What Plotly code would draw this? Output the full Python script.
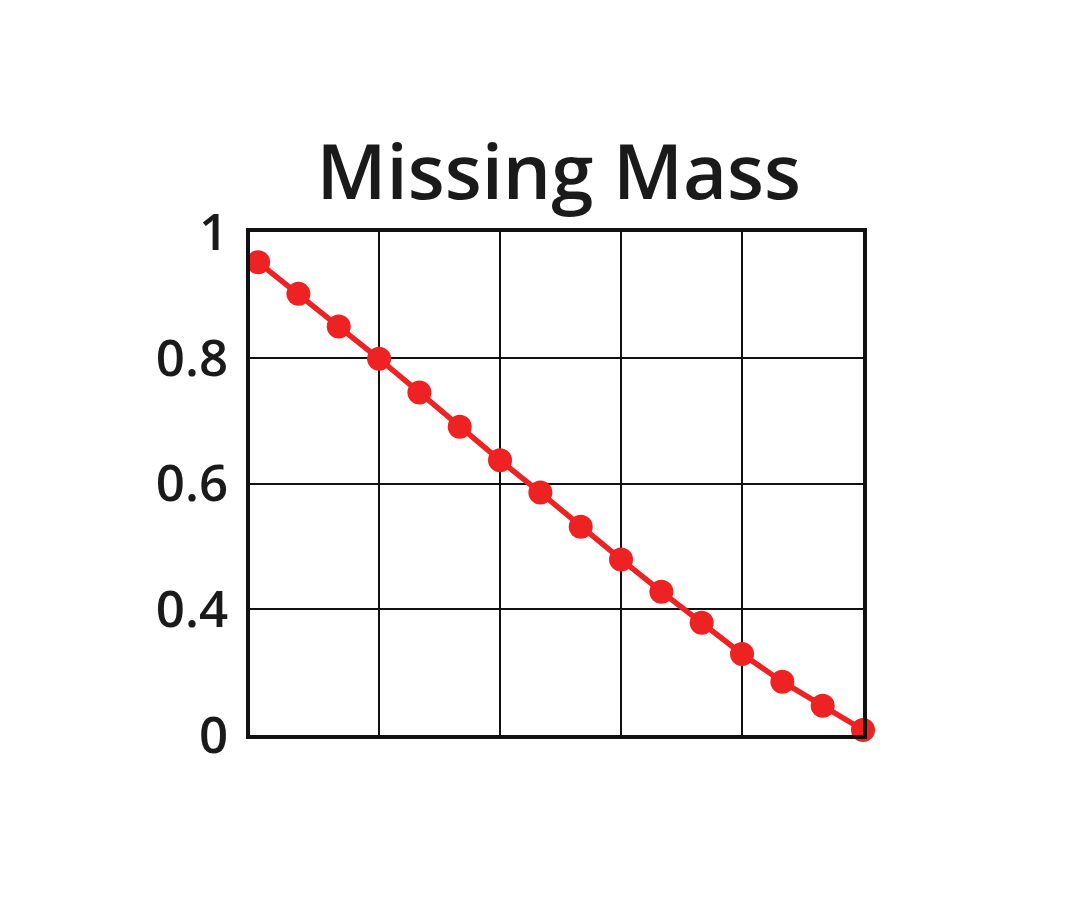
import plotly.graph_objects as go

# data
step = list(range(16))
missing_mass = [0.940, 0.877, 0.812, 0.748, 0.681, 0.613, 0.546, 0.482,
                0.414, 0.349, 0.285, 0.223, 0.161, 0.106, 0.058, 0.010]
y_tick_vals = [0, 0.25, 0.5, 0.75, 1.0]
y_tick_text = ["0", "0.4", "0.6", "0.8", "1"]
x_grid_vals = [3, 6, 9, 12]

RED = "#EE2222"
FONT = "Open Sans"

fig = go.Figure()
fig.add_trace(go.Scatter(
    x=step, y=missing_mass, mode="lines+markers",
    line=dict(color=RED, width=5.5),
    marker=dict(color=RED, size=24),
    cliponaxis=False, showlegend=False,
))

fig.update_layout(
    width=1080, height=903,
    paper_bgcolor="white", plot_bgcolor="white",
    margin=dict(l=242, r=225, t=224, b=176),
    title=dict(text="Missing Mass", x=0.510, xanchor="center",
               y=0.818, yanchor="middle",
               font=dict(family=FONT, size=76, color="#1a1a1a", weight=600)),
    font=dict(family=FONT, color="#1a1a1a"),
)
fig.update_xaxes(
    range=[-0.2, 15.0], tickvals=x_grid_vals, showticklabels=False,
    showgrid=True, gridcolor="#111111", gridwidth=1.6,
    showline=True, linecolor="#111111", linewidth=3.5, mirror=True,
    zeroline=False, ticks="",
)
fig.update_yaxes(
    range=[0, 1], tickvals=y_tick_vals, ticktext=y_tick_text,
    tickfont=dict(family=FONT, size=51, color="#1a1a1a", weight=600),
    showgrid=True, gridcolor="#111111", gridwidth=1.6,
    showline=True, linecolor="#111111", linewidth=3.5, mirror=True,
    zeroline=False, ticks="outside", ticklen=8, tickcolor="white",
)

fig.write_html("out.html")
